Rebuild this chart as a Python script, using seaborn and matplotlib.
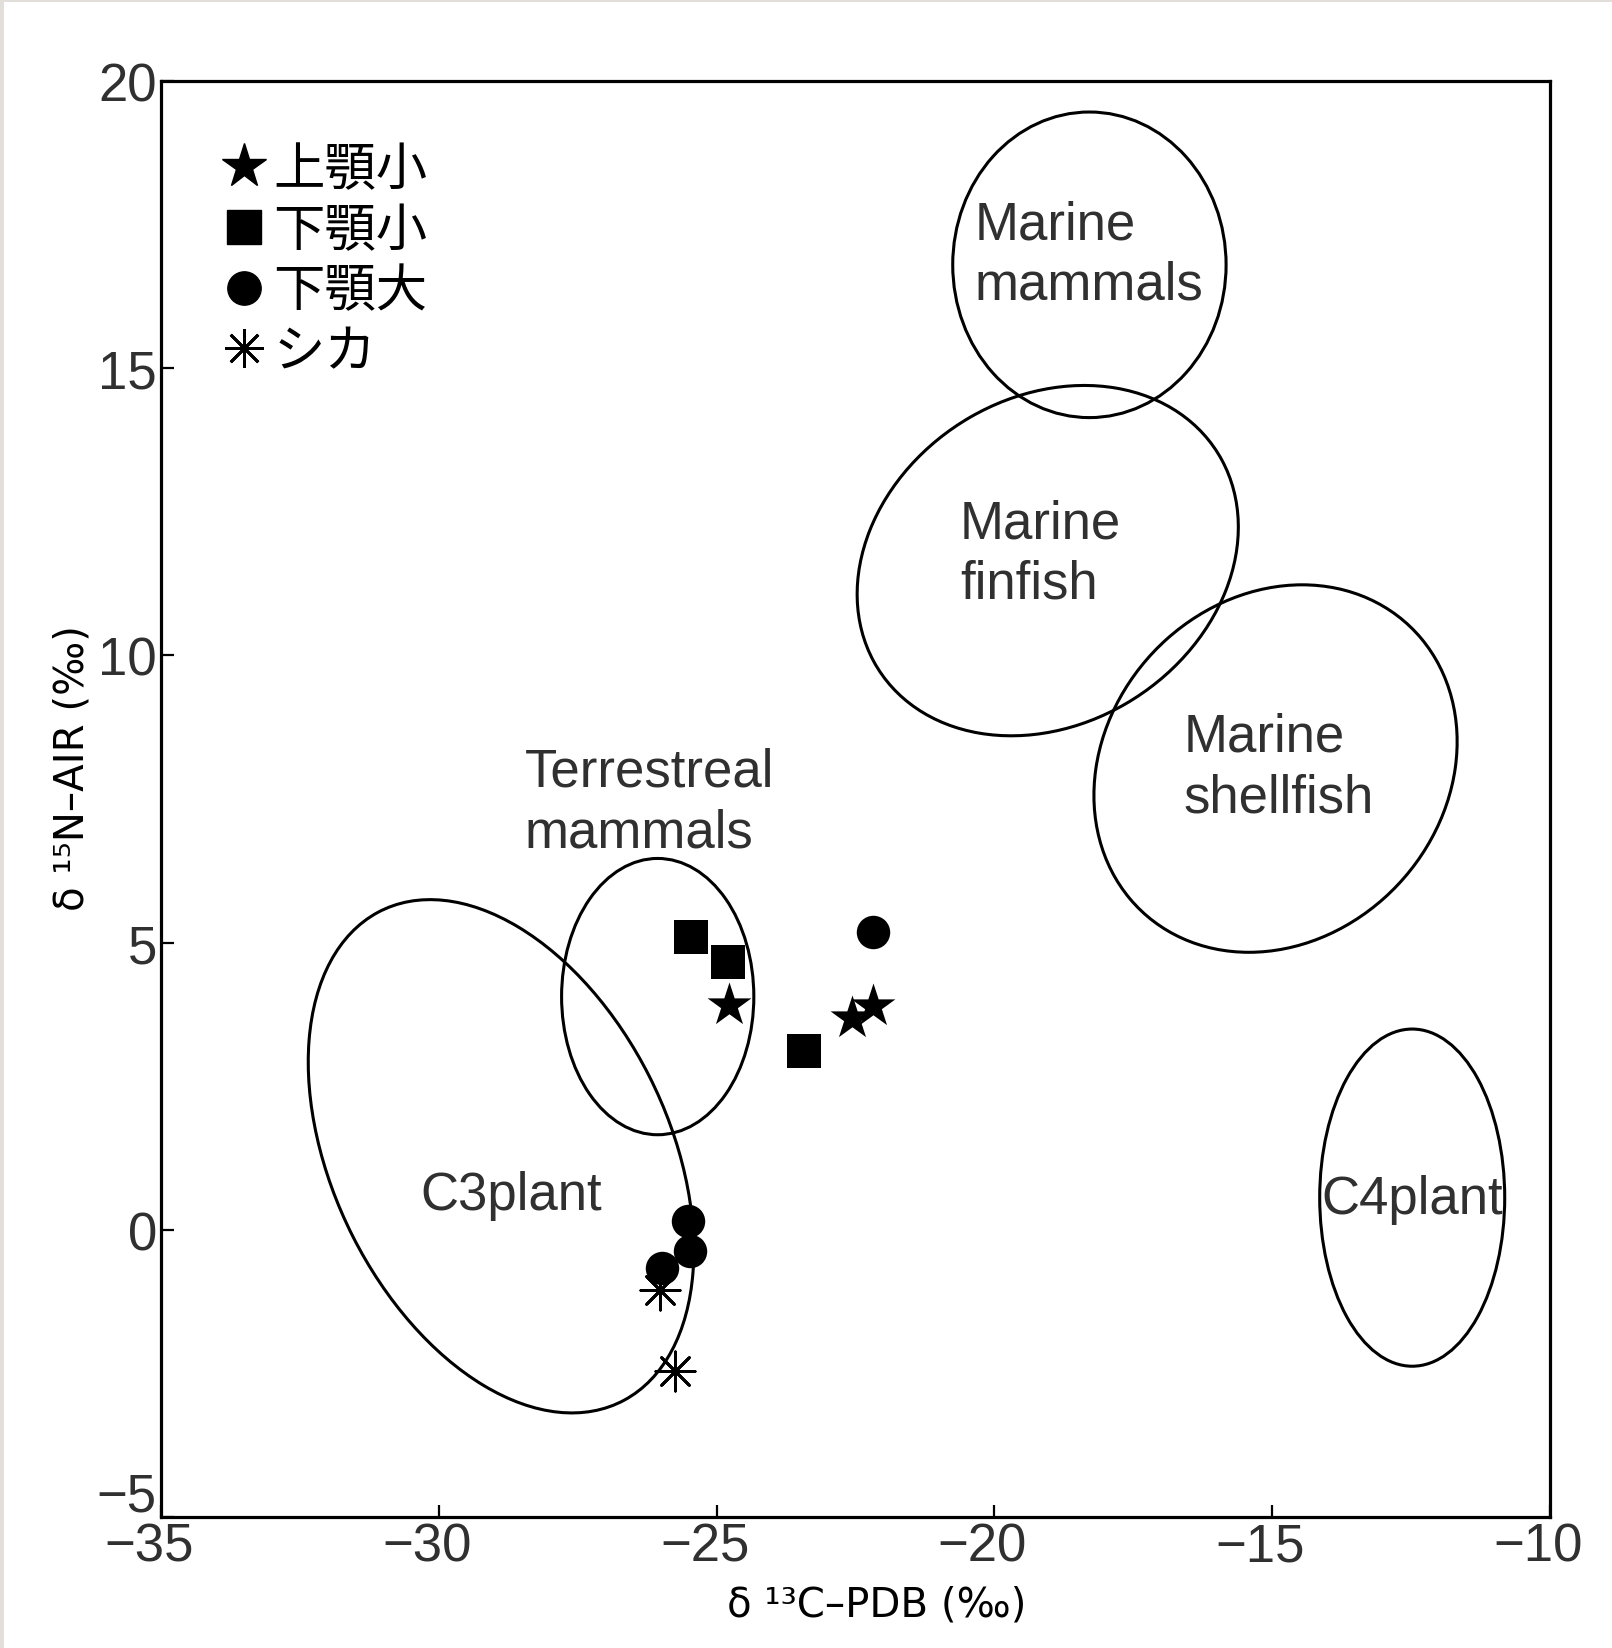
import matplotlib
matplotlib.use("Agg")
import matplotlib.pyplot as plt
import matplotlib.transforms as mtransforms
from matplotlib.patches import Ellipse, Rectangle
from matplotlib.lines import Line2D
from matplotlib import font_manager as fm
import seaborn as sns
import pandas as pd

# ---------------- data ----------------
groups = ["上顎小", "下顎小", "下顎大", "シカ"]
star_x = [-24.78, -22.57, -22.19]
star_y = [3.92, 3.68, 3.90]
square_x = [-25.46, -24.80, -23.42]
square_y = [5.10, 4.66, 3.12]
circle_x = [-22.19, -25.52, -25.48, -25.99]
circle_y = [5.19, 0.16, -0.37, -0.66]
deer_x = [-26.01, -25.75]
deer_y = [-1.05, -2.46]

region_names = ["Marine\nmammals", "Marine\nfinfish", "Marine\nshellfish",
                "Terrestreal\nmammals", "C3plant", "C4plant"]
region_cx = [-18.29, -19.04, -14.94, -26.06, -28.88, -12.48]
region_cy = [16.80, 11.65, 8.03, 4.06, 1.28, 0.56]
region_w = [4.92, 7.18, 6.93, 3.46, 9.58, 3.33]
region_h = [5.32, 5.72, 5.97, 4.81, 6.02, 5.87]
region_angle = [0, 29.2, 40.8, 0, -62.4, 0]

x_ticks = [-35, -30, -25, -20, -15, -10]
y_ticks = [-5, 0, 5, 10, 15, 20]

# ---------------- style ----------------
sns.set_style("ticks")


def has_font(name):
    try:
        fm.findfont(fm.FontProperties(family=name), fallback_to_default=False)
        return True
    except Exception:
        return False


narrow = "Liberation Sans Narrow" if has_font("Liberation Sans Narrow") else "DejaVu Sans Condensed"
if not has_font(narrow):
    narrow = "DejaVu Sans"

plt.rcParams["font.family"] = ["Liberation Sans", "DejaVu Sans"]

fig = plt.figure(figsize=(16.12, 16.49), dpi=100)
ax = fig.add_axes([161 / 1612, 131 / 1649, 1389 / 1612, 1436 / 1649])

df = pd.concat([
    pd.DataFrame({"x": star_x, "y": star_y, "g": groups[0]}),
    pd.DataFrame({"x": square_x, "y": square_y, "g": groups[1]}),
    pd.DataFrame({"x": circle_x, "y": circle_y, "g": groups[2]}),
    pd.DataFrame({"x": deer_x, "y": deer_y, "g": groups[3]}),
])

marker_map = {groups[0]: "*", groups[1]: "s", groups[2]: "o", groups[3]: (8, 2, 0)}
size_map = {groups[0]: 1100, groups[1]: 625, groups[2]: 580, groups[3]: 800}

# ellipses first
for name, cx, cy, w, h, a in zip(region_names, region_cx, region_cy, region_w, region_h, region_angle):
    ax.add_patch(Ellipse((cx, cy), w, h, angle=a, fill=False, edgecolor="black", linewidth=2.2, zorder=2))

for g in groups:
    sub = df[df["g"] == g]
    if g == groups[3]:
        sns.scatterplot(data=sub, x="x", y="y", ax=ax, marker=marker_map[g], s=size_map[g],
                        color="black", linewidth=2.0, edgecolor="black", zorder=3, legend=False)
    else:
        sns.scatterplot(data=sub, x="x", y="y", ax=ax, marker=marker_map[g], s=size_map[g],
                        color="black", linewidth=0, zorder=3, legend=False)

# region labels
label_pos = [(-20.35, 16.98), (-20.62, 11.77), (-16.59, 8.06), (-28.45, 7.45), (-30.34, 0.61), (-14.12, 0.54)]
for name, (tx, ty) in zip(region_names, label_pos):
    ax.text(tx, ty, name, ha="left", va="center", fontsize=38, color="#303030",
            linespacing=1.27, zorder=4, family=["Liberation Sans", "DejaVu Sans"])

ax.set_xlim(-35, -10)
ax.set_ylim(-5, 20)
ax.set_xticks(x_ticks)
ax.set_yticks(y_ticks)
ax.set_xticklabels(["\u2212" + str(abs(v)) if v < 0 else str(v) for v in x_ticks])
ax.set_yticklabels(["\u2212" + str(abs(v)) if v < 0 else str(v) for v in y_ticks])
ax.tick_params(direction="in", length=9, width=1.6, labelsize=38, labelcolor="#303030", pad=3, color="black")
for sp in ax.spines.values():
    sp.set_linewidth(2.3)
    sp.set_color("black")
    sp.set_visible(True)

# shift tick labels like the reference
shift_left = mtransforms.ScaledTranslation(-12 / 100, 0, fig.dpi_scale_trans)
for lab in ax.get_xticklabels():
    lab.set_transform(lab.get_transform() + shift_left)
shift_up = mtransforms.ScaledTranslation(0, 26 / 100, fig.dpi_scale_trans)
ylabs = ax.get_yticklabels()
ylabs[0].set_transform(ylabs[0].get_transform() + shift_up)

ax.set_xlabel("δ \u00b9\u00b3C\u2013PDB (‰)", fontsize=29, family=[narrow, "DejaVu Sans"], color="black")
ax.set_ylabel("δ \u00b9\u2075N\u2013AIR (‰)", fontsize=29, family=[narrow, "DejaVu Sans"], color="black")
ax.xaxis.set_label_coords(0.515, -0.061)
ax.xaxis.label.set_va("center")
ax.yaxis.set_label_coords(-0.064, 0.522)
ax.yaxis.label.set_va("center")

# legend
handles = [
    Line2D([], [], marker="*", color="black", linestyle="none", markersize=33),
    Line2D([], [], marker="s", color="black", linestyle="none", markersize=24),
    Line2D([], [], marker="o", color="black", linestyle="none", markersize=24),
    Line2D([], [], marker=(8, 2, 0), color="black", linestyle="none", markersize=28, markeredgewidth=2.0),
]
leg = ax.legend(handles, groups, loc="upper left", bbox_to_anchor=(0.041, 0.957), frameon=False,
                prop=fm.FontProperties(family=["Noto Sans CJK JP", "DejaVu Sans"], size=37),
                handlelength=1.0, handletextpad=0.08, labelspacing=0.14, borderpad=0, borderaxespad=0)
for t in leg.get_texts():
    t.set_color("black")

# thin gray frame at top and left like the scanned reference
fig.patches.append(Rectangle((0, 1 - 3 / 1649), 1, 3 / 1649, transform=fig.transFigure,
                             facecolor="#e2dfda", edgecolor="none"))
fig.patches.append(Rectangle((0, 0), 4 / 1612, 1, transform=fig.transFigure,
                             facecolor="#e2dfda", edgecolor="none"))

fig.savefig("out.png", dpi=100)
